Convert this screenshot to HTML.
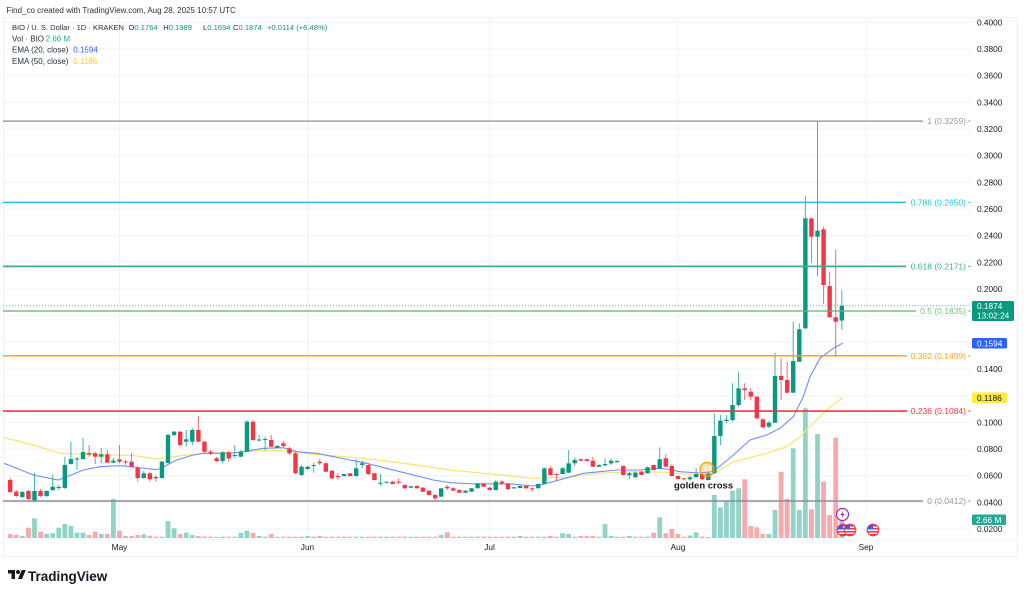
<!DOCTYPE html>
<html><head><meta charset="utf-8">
<style>
html,body{margin:0;padding:0;background:#fff;}
body{width:1024px;height:595px;overflow:hidden;position:relative;font-family:"Liberation Sans",Arial,sans-serif;}
svg{position:absolute;left:0;top:0;}
text{font-family:"Liberation Sans",Arial,sans-serif;}
</style></head>
<body>
<svg id="c" width="1024" height="595" viewBox="0 0 1024 595" xmlns="http://www.w3.org/2000/svg">
<rect x="0" y="0" width="1024" height="595" fill="#fff"/>
<rect x="3.5" y="17.5" width="1014" height="539" fill="none" stroke="#eef0f4" stroke-width="1"/>
<g id="grid" stroke-width="1"></g>
<g id="vol"></g>
<g id="ema" fill="none" stroke-width="1.1">
<polyline stroke="#fbe46b" stroke-width="1.2" points="4,437.5 6.7,438.3 33.3,445 60,453.3 83.3,454.3 133.3,455.5 156.7,459 186.7,455 206.7,453.3 233.3,452.5 263.3,450.5 283.3,450.7 310,454 316.7,454.3 363.3,458.3 416.7,465 450,470 483.3,473.3 510,476 533.3,478.3 566.7,477.3 600,473.3 633.3,471.7 666.7,472.3 700,475.5 713.3,473.5 733.3,462 766.7,453.3 786.7,446.7 800,436.7 813.3,423.3 826.7,410 842.7,397.5"/>
<polyline stroke="#6d8ff5" points="4,463.5 6.7,464.3 33.3,475 58.3,480 66.7,476.7 83.3,470 100,466.7 120,465.7 133.3,467 156.7,469.7 163.3,467 176.7,460 193.3,455 203.3,453.3 216.7,453.3 233.3,453 243.3,451.7 263.3,448.3 283.3,447.7 296.7,451.7 316.7,453.3 350,460 366.7,463.3 400,471.7 433.3,480 450,482.7 476.7,484 510,483.8 533.3,486 540,485 556.7,480.7 583.3,473.3 600,471.7 616.7,470 640,470 656.7,468.3 666.7,469 680,471.7 700,473 713.3,471.5 733.3,455 750,440 766.7,435 780,428.3 793.3,416.7 803.3,396.7 810,376.7 820,358.3 833.3,348.3 842.7,343.1"/>
</g>
<g id="cnd"></g>
<line x1="3" y1="305.8" x2="971" y2="305.8" stroke="#089981" stroke-width="0.8" stroke-dasharray="1,2" opacity="0.8"/>
<g stroke-width="1.3">
<line x1="3" y1="121.1" x2="923" y2="121.1" stroke="#8a8d96"/>
<line x1="3" y1="202.3" x2="906" y2="202.3" stroke="#22c3d6"/>
<line x1="3" y1="266.4" x2="906" y2="266.4" stroke="#3fae98" stroke-width="1.8"/>
<line x1="3" y1="311" x2="916" y2="311" stroke="#5cb85c"/>
<line x1="3" y1="355.8" x2="907" y2="355.8" stroke="#ff9800"/>
<line x1="3" y1="411.1" x2="907" y2="411.1" stroke="#f23645" stroke-width="1.6"/>
<line x1="3" y1="501" x2="923" y2="501" stroke="#8a8d96" stroke-width="1.5"/>
</g>
<g font-size="8.5" text-anchor="end">
<text x="966" y="124" fill="#9598a1">1 (0.3259)</text>
<text x="966" y="205.3" fill="#22c3d6">0.786 (0.2650)</text>
<text x="966" y="269.4" fill="#3fae98">0.618 (0.2171)</text>
<text x="966" y="314" fill="#7cc47c">0.5 (0.1835)</text>
<text x="966" y="358.8" fill="#ffa726">0.382 (0.1499)</text>
<text x="966" y="414.1" fill="#f23645">0.236 (0.1084)</text>
<text x="966" y="504" fill="#9598a1">0 (0.0412)</text>
</g>
<g stroke-width="1.2">
<line x1="968.5" y1="121.1" x2="970.5" y2="121.1" stroke="#9598a1"/>
<line x1="968.5" y1="202.3" x2="970.5" y2="202.3" stroke="#22c3d6"/>
<line x1="968.5" y1="266.4" x2="970.5" y2="266.4" stroke="#3fae98"/>
<line x1="968.5" y1="311" x2="970.5" y2="311" stroke="#5cb85c"/>
<line x1="968.5" y1="355.8" x2="970.5" y2="355.8" stroke="#ff9800"/>
<line x1="968.5" y1="411.1" x2="970.5" y2="411.1" stroke="#f23645"/>
<line x1="968.5" y1="501" x2="970.5" y2="501" stroke="#9598a1"/>
</g>
<circle cx="707" cy="469.5" r="7" fill="rgba(255,167,38,0.28)" stroke="#ff9800" stroke-width="1.3"/>
<text x="674" y="488.5" font-size="9.5" font-weight="bold" fill="#131722">golden cross</text>
<circle cx="842.5" cy="514.5" r="6" fill="#fff" stroke="#9c27b0" stroke-width="1.2"/>
<path d="M843.5 510.5 L840.5 515 L842.5 515 L841.5 518.5 L844.5 514 L842.5 514 Z" fill="#9c27b0"/>
<defs>
<clipPath id="f1"><circle cx="843" cy="530" r="5.6"/></clipPath>
<clipPath id="f2"><circle cx="850" cy="530" r="5.6"/></clipPath>
<clipPath id="f3"><circle cx="873" cy="530" r="5.6"/></clipPath>
</defs>
<g id="flags"></g>
<g font-size="8.3" fill="#131722" id="ax"></g>
<rect x="972" y="301" width="42" height="20" rx="1.5" fill="#089981"/>
<text x="977" y="309" font-size="8.3" fill="#fff">0.1874</text>
<text x="977" y="318.5" font-size="8.3" fill="#fff">13:02:24</text>
<rect x="972" y="338" width="35" height="10.5" rx="1.5" fill="#2962ff"/>
<text x="977" y="346.3" font-size="8.3" fill="#fff">0.1594</text>
<rect x="972" y="392.5" width="35" height="10.5" rx="1.5" fill="#ffeb3b"/>
<text x="977" y="400.8" font-size="8.3" fill="#131722">0.1186</text>
<rect x="972" y="514.5" width="34" height="10.5" rx="1.5" fill="#22ab94"/>
<text x="976" y="522.8" font-size="8.3" fill="#fff">2.66 M</text>
<g font-size="8.3" fill="#131722" text-anchor="middle">
<text x="119.5" y="550">May</text>
<text x="307.5" y="550">Jun</text>
<text x="489.5" y="550">Jul</text>
<text x="678" y="550">Aug</text>
<text x="866" y="550">Sep</text>
</g>
<text x="6.5" y="13" font-size="8" fill="#2a2e39">Find_co created with TradingView.com, Aug 28, 2025 10:57 UTC</text>
<g font-size="7.6" fill="#2a2e39">
<text x="12" y="30" textLength="112" lengthAdjust="spacingAndGlyphs">BIO / U. S. Dollar · 1D · KRAKEN</text>
<text x="128.5" y="30">O<tspan fill="#089981">0.1764</tspan></text>
<text x="163.3" y="30">H<tspan fill="#089981">0.1989</tspan></text>
<text x="203" y="30">L<tspan fill="#089981">0.1694</tspan></text>
<text x="233" y="30">C<tspan fill="#089981">0.1874</tspan></text>
<text x="267" y="30" fill="#089981">+0.0114 (+6.48%)</text>
</g>
<g font-size="8" fill="#2a2e39">
<text x="12" y="41.3">Vol · BIO</text>
<text x="45.7" y="41.3" fill="#22ab94">2.66 M</text>
<text x="12" y="52.3">EMA (20, close)</text>
<text x="73.3" y="52.3" fill="#2962ff">0.1594</text>
<text x="12" y="63.8">EMA (50, close)</text>
<text x="73.3" y="63.8" fill="#f5cf2f">0.1186</text>
</g>
<g transform="translate(8,568) scale(0.5)" fill="#131722">
<path d="M14 22H7V11H0V4h14v18z"/>
<circle cx="20" cy="8" r="4"/>
<path d="M28 22h-8l7.5-18h8L28 22z"/>
</g>
<text x="28" y="581" font-size="13.5" font-weight="bold" fill="#131722">TradingView</text>
</svg>
<script>
(function(){
var NS="http://www.w3.org/2000/svg";
var D=[
[480,478,493,492,534],[491.7,490,497,496,535],[497,491,498,492,536],[491,490,501.7,499,527.7],[501,473,502,491,518.3],
[491,489,497,496,531.7],[496,490,497,491,534],[490,475,491,486.7,533.3],[488,485,490,487,527.7],[488,456.7,489,465,524],
[464,441.7,464.5,459,526],[459.5,456.7,470,458.5,532.7],[459,438,460,452,532.7],[453,445,456.7,454.5,535],[453.3,452,464,456.7,531.7],
[456.7,448,463.3,454.3,534],[454.3,450,462.7,462.7,534],[462.7,458,463.3,460.7,499],[459.3,445,463.3,461.7,530.7],[461.5,460,465,462,536],
[461.7,453,466.7,466.7,536],[468,466,481.7,478,535],[478,471,478.5,473.3,534.3],[473.3,472,481.7,479.3,535.7],[477,475,481.7,478.3,536.7],
[478,461,478.5,461.7,536.7],[463,434,463.5,435,521],[435,431,436,431.7,528.3],[431.7,431,446,445,534],[441.7,430,446.7,439.3,532.7],
[441.7,428,445,430,535],[430,416,442,441.7,536],[441.7,441,453,451.7,536.7],[451.7,450,455,453.3,536.7],[458.3,457,462,461,537],
[461,451,463,452.3,536.7],[452.3,451,461.7,458.3,536.7],[455.7,445,458.3,455,536.7],[456.7,450,457,451.7,532.7],[451.7,420,452,421.7,530.7],
[421.7,420,441,440,532.7],[440.5,435,441.7,439.5,536],[440,436.7,450,439,536.7],[440,435,447,446.7,534],[447.7,445,448,446,536.7],
[443.3,441,447,446,536.7],[448.3,447,455,453.3,536.7],[453.3,452,474,473.3,536.7],[475,465,476,466.7,536.7],[469,466,470,466.7,536],
[466,462.7,472.7,465,536.7],[461.7,459,465,463.3,536],[463.3,461.7,472,471.7,536.7],[470.7,470,479,478.3,536.7],[476,473.3,480,477.3,536.7],
[476,474,477,474,536.7],[473.3,473,476.5,476,536.7],[476,459.3,476.7,468.3,536.7],[465,460.7,468.3,463.3,536.7],[465,463.3,475,474,536.7],
[473.3,473,480.5,480,536.7],[483.3,474,486,482.7,536.7],[482.7,481.5,483.5,481.7,536.7],[481.7,481,484.5,484,536.7],[481.7,478.3,484,482.7,536.7],
[485,484.5,488.7,488.3,536.7],[487.7,486,488.3,486.3,536.7],[486,485.5,488.5,488.3,536.7],[487.7,487,492,491.7,536.7],[490.7,490,495.5,495,536.7],
[495,494.5,500.7,498.3,536.7],[496.7,488,497,488.3,535],[486.7,485,490,488.3,532.3],[488.3,487.5,491,490.7,536.7],[490,489.5,493,492.7,536.7],
[492.7,490,493,490.7,536.7],[491.7,488,492,488.3,536.7],[488.3,483,488.5,483.3,536.7],[483.3,483,487,486.7,536.7],[487.7,487,490.5,490,536.7],
[490,480,490.5,481.7,536.7],[481.7,480,485.5,483.3,536.7],[484,483,489.7,489.3,536.7],[488.3,487,489,487.3,536.7],[488,485.5,488.5,486,536],
[486,485.5,488.5,488.3,536.7],[488.3,487.5,491.7,489.3,536.7],[488.3,483.5,488.5,484,536.7],[484,467.5,484.5,468.3,536.7],[468.3,466,475.5,475,536],
[474,473.5,480.7,475,536.7],[474,467,474.5,468.3,533.3],[472.7,450,473,463.3,534],[463.3,457.3,466,460,536.7],[459.3,458.5,461,460.7,536],
[459.3,458.5,461.5,461,536],[460.7,456.7,467,466.7,536],[466.7,464,467,465,536.7],[465.3,458.3,466,464,524],[463.3,458.3,465,460.7,536],
[462,460,463,461,536.7],[466,465.5,475.5,475,536.7],[475.3,472,479.3,473.3,536],[477.3,471.5,477.8,472.7,536.7],[471.7,471,475.5,475,536.7],
[473.3,466.5,473.8,467.3,536.7],[465,464.5,470.5,470,532.7],[468.3,447.3,469,459.3,517.3],[458.3,454,467,466.7,533.3],[466,464,476.5,476,529],
[476,475.5,479.5,479,534],[478.3,478,480,479.3,536.7],[479.3,476,480.7,477.3,535.5],[477.3,468.3,477.8,474,532.3],[474,473.5,479.8,479.3,536.5],
[480,472.5,480.5,473.3,537],[473.3,413.3,474,436,495],[436,415,445,420.7,507.3],[421,415,423,419.7,501.7],[420,383.3,421.7,405,490.7],
[405,371.7,406.7,388.3,488.3],[388.3,383.3,400,390,479.3],[391.7,388,400,396.7,526],[396.7,396,419,418.3,527.3],[419.3,418,428,427.3,534],
[426.7,421,428,422.7,534],[422.7,352.7,423,376,510],[376,358.3,400,380,471.7],[380,361.7,393.3,392.7,499],[392.7,321.7,393.3,361,448.3],
[361.7,323.3,362,329.3,510],[328.3,196,329,218.3,408.3],[218.3,218,262.7,236.7,509.3],[236.7,121.1,276,230.7,434],[229.3,226.7,304,285,481.7],
[286,271.7,304,317.3,515],[317.3,249.3,356.7,321.7,437.7],[320.5,290.5,329.8,305.8,519.5]
];
function el(parent,tag,attrs){var e=document.createElementNS(NS,tag);for(var k in attrs)e.setAttribute(k,attrs[k]);parent.appendChild(e);return e;}
var X0=10.2,DX=6.07,BW=4.4,VB=538;
var vol=document.getElementById('vol'),cnd=document.getElementById('cnd'),grid=document.getElementById('grid'),ax=document.getElementById('ax');
var pink={"0.3400":1,"0.2800":1,"0.1200":1,"0.0800":1};
for(var k=0;k<=19;k++){
  var p=0.4-k*0.02; var y=22.3+(0.4-p)*1333.5; var lab=p.toFixed(4);
  el(grid,'line',{x1:3,y1:y.toFixed(1),x2:971,y2:y.toFixed(1),stroke:pink[lab]?'#fbeef0':'#eef3f6'});
  if(lab==="0.1800"||lab==="0.1600"||lab==="0.1200") continue;
  var t=el(ax,'text',{x:977,y:(y+3).toFixed(1)}); t.textContent=lab;
}
[119.5,307.5,489.5,678,866].forEach(function(x){el(grid,'line',{x1:x,y1:17,x2:x,y2:540,stroke:'#f0f3f6'});});
el(grid,'line',{x1:3,y1:539.5,x2:1017,y2:539.5,stroke:'#f3f4f7'});
D.forEach(function(c,i){
  var x=X0+i*DX,o=c[0],h=c[1],l=c[2],cl=c[3],v=c[4],up=cl<=o;
  var col=up?'#089981':'#f23645',vcol=up?'#92d3c8':'#f8a9ae';
  el(vol,'rect',{x:(x-2.4).toFixed(2),y:v,width:4.8,height:Math.max(0.8,VB-v).toFixed(2),fill:vcol});
  el(cnd,'line',{x1:x.toFixed(2),y1:h,x2:x.toFixed(2),y2:l,stroke:col,'stroke-width':1,opacity:0.75});
  var top=Math.min(o,cl),bh=Math.max(1,Math.abs(o-cl));
  el(cnd,'rect',{x:(x-BW/2).toFixed(2),y:top,width:BW,height:bh.toFixed(2),fill:col});
});
var fl=document.getElementById('flags');
[[843,'f1'],[850,'f2'],[873,'f3']].forEach(function(a){
  var cx=a[0],g=el(fl,'g',{'clip-path':'url(#'+a[1]+')'});
  el(g,'rect',{x:cx-6,y:524,width:12,height:12,fill:'#fff'});
  for(var s=0;s<4;s++) el(g,'rect',{x:cx-6,y:525+s*3,width:12,height:1.5,fill:'#f23645'});
  el(g,'rect',{x:cx-6,y:524,width:6,height:5.5,fill:'#2962ff'});
  el(fl,'circle',{cx:cx,cy:530,r:5.8,fill:'none',stroke:'#f23645','stroke-width':1.1});
});
})();
</script>
</body></html>
